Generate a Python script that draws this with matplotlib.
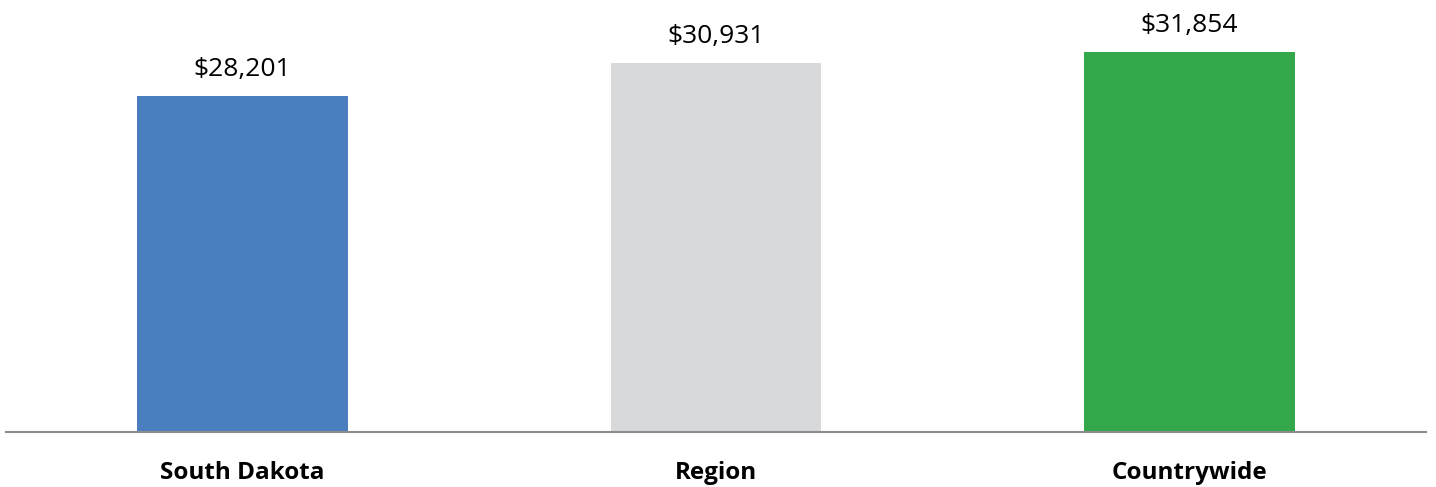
import matplotlib

matplotlib.use("Agg")
import matplotlib.pyplot as plt

categories = ["South Dakota", "Region", "Countrywide"]
values = [28201, 30931, 31854]
colors = ["#4a7ebf", "#d8d9db", "#33a84a"]

W, H = 1436, 487
fig = plt.figure(figsize=(W / 100, H / 100), dpi=100)
ax = fig.add_axes([6 / W, (H - 432) / H, 1420 / W, 432 / H])

x = range(len(categories))
ax.bar(x, values, width=0.445, color=colors, zorder=2)

ax.set_xlim(-0.5, len(categories) - 0.5)
ax.set_ylim(0, 36250)

for xi, v in zip(x, values):
    ax.annotate(f"${v:,}", (xi, v), xytext=(0, 10), textcoords="offset points",
                ha="center", va="bottom", fontsize=19, family="Open Sans")

ax.set_xticks(list(x))
ax.set_xticklabels(categories, fontsize=17.5, fontweight="bold", family="Open Sans")
ax.tick_params(axis="x", length=0, pad=21)
ax.set_yticks([])
for side in ["top", "right", "left"]:
    ax.spines[side].set_visible(False)
ax.spines["bottom"].set_color("#8c8c8c")
ax.spines["bottom"].set_linewidth(1.5)

fig.savefig("out.png", dpi=100)
